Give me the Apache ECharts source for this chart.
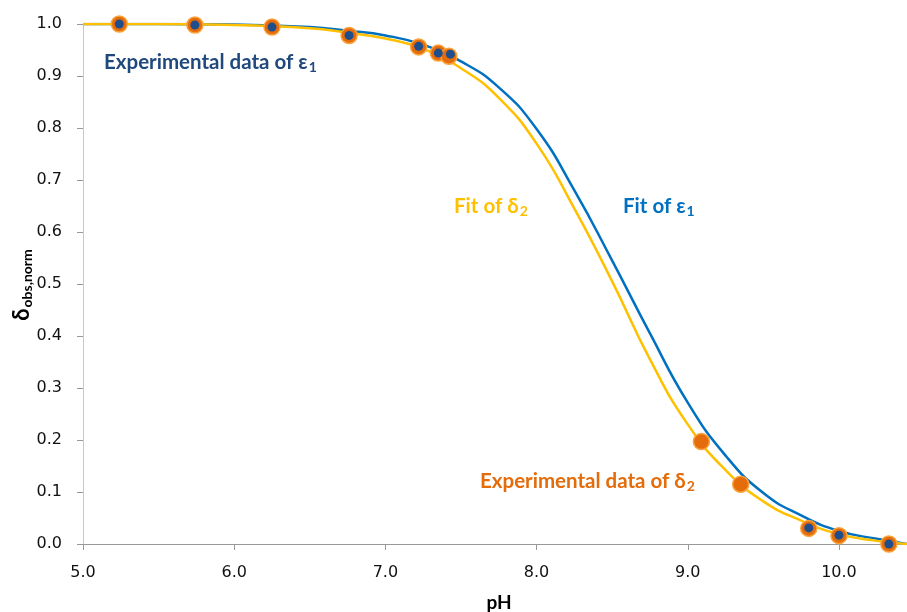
<!DOCTYPE html>
<html>
<head>
<meta charset="utf-8">
<script src="https://cdn.jsdelivr.net/npm/echarts@6/dist/echarts.min.js"></script>
<style>
  html, body { margin: 0; padding: 0; background: #fff; }
  #chart { width: 907px; height: 612px; }
</style>
</head>
<body>
<div id="chart"></div>
<script>
// Normalised shift vs pH: experimental points and fitted titration curves
const fitPH     = [5.0, 5.5, 6.0, 6.5, 6.75, 7.0, 7.25, 7.5, 7.75, 8.0, 8.25, 8.5, 8.75, 9.0, 9.25, 9.5, 9.75, 10.0, 10.25, 10.45];
const fitDelta2 = [1.000, 1.000, 0.998, 0.992, 0.983, 0.972, 0.952, 0.915, 0.858, 0.770, 0.645, 0.505, 0.355, 0.230, 0.142, 0.082, 0.045, 0.019, 0.006, 0.000];
const fitEps1   = [1.000, 1.000, 0.999, 0.994, 0.987, 0.978, 0.960, 0.928, 0.878, 0.798, 0.680, 0.545, 0.405, 0.272, 0.170, 0.098, 0.055, 0.025, 0.010, 0.000];

const expDelta2PH = [5.24, 5.74, 6.25, 6.76, 7.22, 7.35, 7.42, 9.09, 9.35, 9.80, 10.00, 10.33];
const expDelta2   = [1.000, 0.998, 0.994, 0.978, 0.956, 0.944, 0.938, 0.197, 0.115, 0.030, 0.016, 0.000];
const expEps1PH   = [5.24, 5.74, 6.25, 6.76, 7.22, 7.35, 7.43, 9.80, 10.00, 10.33];
const expEps1     = [1.000, 0.998, 0.994, 0.978, 0.957, 0.944, 0.942, 0.031, 0.017, 0.000];

const xTicks = [5, 6, 7, 8, 9, 10];

const zip = (xs, ys) => xs.map((x, i) => [x, ys[i]]);

const labelFont = 'Lato';
function subLabel(main, sub, color, x, y) {
  return {
    type: 'text', x: x, y: y,
    style: {
      text: '{m|' + main + '}{s|' + sub + '}',
      fill: color,
      verticalAlign: 'middle',
      rich: {
        m: { fontFamily: labelFont, fontWeight: 'bold', fontSize: 20.5, lineHeight: 25, fill: color, color: color },
        s: { fontFamily: labelFont, fontWeight: 'bold', fontSize: 14, lineHeight: 14, padding: [9, 0, 0, 1], verticalAlign: 'bottom', fill: color, color: color }
      }
    }
  };
}

const chart = echarts.init(document.getElementById('chart'), null, { renderer: 'canvas' });
chart.setOption({
  animation: false,
  backgroundColor: '#ffffff',
  grid: { left: 83, top: 24, width: 824, bottom: 68, containLabel: false },
  xAxis: {
    type: 'value', min: 5, max: 10.45, interval: 1,
    axisLine: { show: true, lineStyle: { color: '#999999', width: 1 } },
    axisTick: { show: true, length: 6, customValues: xTicks, lineStyle: { color: '#999999' } },
    axisLabel: {
      customValues: xTicks, margin: 21,
      formatter: v => v.toFixed(1),
      fontFamily: 'DejaVu Sans', fontSize: 16, color: '#111'
    },
    splitLine: { show: false }
  },
  yAxis: {
    type: 'value', min: 0, max: 1, interval: 0.1,
    axisLine: { show: true, lineStyle: { color: '#C8C8C8', width: 1 } },
    axisTick: { show: true, length: 6, lineStyle: { color: '#999999' } },
    axisLabel: {
      margin: 21,
      formatter: v => v.toFixed(1),
      fontFamily: 'DejaVu Sans', fontSize: 16, color: '#111'
    },
    splitLine: { show: false }
  },
  series: [
    {
      name: 'Fit of ε1', type: 'line', data: zip(fitPH, fitEps1),
      smooth: 0.5, showSymbol: false, symbol: 'none',
      lineStyle: { color: '#0070C0', width: 2.5 }, z: 2
    },
    {
      name: 'Fit of δ2', type: 'line', data: zip(fitPH, fitDelta2),
      smooth: 0.5, showSymbol: false, symbol: 'none',
      lineStyle: { color: '#FFC000', width: 2.5 }, z: 3
    },
    {
      name: 'Experimental data of δ2', type: 'scatter', data: zip(expDelta2PH, expDelta2),
      symbolSize: 16, clip: false,
      itemStyle: { color: '#E46C0A', borderColor: '#F9A23C', borderWidth: 1.5, opacity: 1 }, z: 4
    },
    {
      name: 'Experimental data of ε1', type: 'scatter', data: zip(expEps1PH, expEps1),
      symbolSize: 9, clip: false,
      itemStyle: { color: '#1F4E8C', opacity: 1 }, z: 5
    }
  ],
  graphic: [
    subLabel('Experimental data of ε', '1', '#1F497D', 104, 62),
    subLabel('Fit of δ', '2', '#FFC000', 454, 206),
    subLabel('Fit of ε', '1', '#0070C0', 623, 206),
    subLabel('Experimental data of δ', '2', '#E46C0A', 480, 481),
    {
      type: 'text', x: 499, y: 603,
      style: { text: 'pH', font: 'bold 19px Lato', fill: '#000', align: 'center', verticalAlign: 'middle' }
    },
    {
      type: 'text', x: 22, y: 285, rotation: Math.PI / 2,
      style: {
        text: '{m|δ}{s|obs,norm}',
        align: 'center', verticalAlign: 'middle', fill: '#000',
        rich: {
          m: { fontFamily: labelFont, fontWeight: 'bold', fontSize: 22, lineHeight: 25, fill: '#000' },
          s: { fontFamily: labelFont, fontWeight: 'bold', fontSize: 14, lineHeight: 14, padding: [9, 0, 0, 1], verticalAlign: 'bottom', fill: '#000' }
        }
      }
    }
  ]
});
</script>
</body>
</html>
